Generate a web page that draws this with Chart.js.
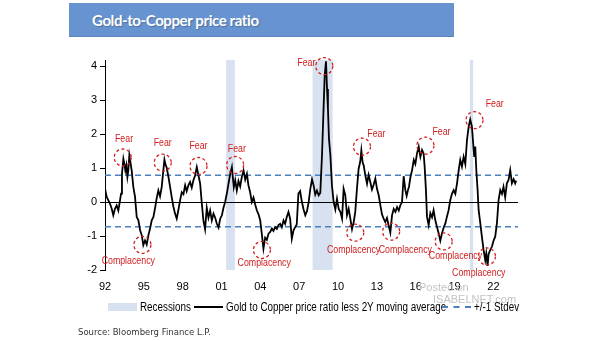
<!DOCTYPE html>
<html>
<head>
<meta charset="utf-8">
<script src="https://cdn.jsdelivr.net/npm/chart.js@4"></script>
<style>
  body { margin: 0; background: #fff; }
  #wrap { position: relative; width: 605px; height: 341px; overflow: hidden; }
  #title { position: absolute; left: 69px; top: 3px; width: 385px; height: 34px; background: #6794d1;
           border-bottom: 1px solid #5a86c2; color: #fff; font: 700 15px Lato, sans-serif; letter-spacing: -0.4px;
           line-height: 35px; padding-left: 23px; box-sizing: border-box; text-shadow: 1px 1px 1px rgba(0,0,0,0.25); }
  .lg { position: absolute; top: 299px; font: 12px "Liberation Sans", sans-serif; color: #000; line-height: 16px;
        white-space: nowrap; transform: scaleX(0.82); transform-origin: 0 0; }
  .box { position: absolute; }
  #src { position: absolute; left: 78px; top: 327px; font: 8.5px "DejaVu Sans", sans-serif; color: #333; }
  .wm { position: absolute; color: #c4c4c4; font: 11px "Liberation Sans", sans-serif; }
</style>
</head>
<body>
<div id="wrap">
  <canvas id="myChart" width="605" height="341"></canvas>
  <div id="title">Gold-to-Copper price ratio</div>
  <div class="wm" style="left:419px;top:281px;">Posted on</div>
  <div class="wm" style="left:433px;top:293px;">ISABELNET.com</div>
  <div class="box" style="left:108px;top:303px;width:29px;height:8px;background:#d8e1ef;"></div>
  <div class="lg" style="left:140px;">Recessions</div>
  <div class="box" style="left:194px;top:306px;width:29px;height:0;border-top:2px solid #000;"></div>
  <div class="lg" style="left:226px;">Gold to Copper price ratio less 2Y moving average</div>
  <div class="box" style="left:442px;top:306px;width:29px;height:0;border-top:2px dashed #4a7fc0;"></div>
  <div class="lg" style="left:474px;">+/-1 Stdev</div>
  <div id="src">Source: Bloomberg Finance L.P.</div>
</div>
<script>
const years = [
  1992.00, 1992.13, 1992.26, 1992.39, 1992.52, 1992.64, 1992.77, 1992.90, 1993.03, 1993.16, 1993.24, 1993.31,
  1993.42, 1993.49, 1993.57, 1993.65, 1993.73, 1993.80, 1993.88, 1993.96, 1994.06, 1994.19, 1994.32, 1994.45,
  1994.58, 1994.71, 1994.84, 1994.96, 1995.09, 1995.22, 1995.35, 1995.48, 1995.61, 1995.74, 1995.87, 1996.00,
  1996.12, 1996.25, 1996.38, 1996.48, 1996.59, 1996.69, 1996.77, 1996.90, 1997.03, 1997.15, 1997.28, 1997.41,
  1997.54, 1997.67, 1997.80, 1997.93, 1998.06, 1998.19, 1998.31, 1998.44, 1998.57, 1998.70, 1998.83, 1998.96,
  1999.09, 1999.22, 1999.35, 1999.48, 1999.60, 1999.73, 1999.86, 1999.99, 2000.12, 2000.25, 2000.38, 2000.51,
  2000.64, 2000.77, 2000.90, 2001.03, 2001.15, 2001.28, 2001.41, 2001.54, 2001.67, 2001.80, 2001.87, 2001.95,
  2002.06, 2002.18, 2002.31, 2002.44, 2002.57, 2002.70, 2002.83, 2002.96, 2003.08, 2003.21, 2003.34, 2003.47,
  2003.60, 2003.73, 2003.86, 2003.99, 2004.11, 2004.24, 2004.37, 2004.50, 2004.63, 2004.76, 2004.89, 2005.01,
  2005.14, 2005.27, 2005.40, 2005.53, 2005.66, 2005.79, 2005.91, 2006.04, 2006.17, 2006.30, 2006.43, 2006.56,
  2006.69, 2006.81, 2006.94, 2007.07, 2007.21, 2007.34, 2007.47, 2007.60, 2007.73, 2007.86, 2007.99, 2008.11,
  2008.24, 2008.37, 2008.50, 2008.63, 2008.76, 2008.89, 2008.97, 2009.07, 2009.15, 2009.22, 2009.30, 2009.41,
  2009.53, 2009.66, 2009.79, 2009.92, 2010.05, 2010.18, 2010.31, 2010.43, 2010.56, 2010.69, 2010.82, 2010.95,
  2011.08, 2011.21, 2011.33, 2011.46, 2011.59, 2011.72, 2011.80, 2011.90, 2011.98, 2012.11, 2012.24, 2012.36,
  2012.49, 2012.62, 2012.75, 2012.88, 2013.01, 2013.14, 2013.27, 2013.40, 2013.52, 2013.65, 2013.78, 2013.91,
  2014.04, 2014.17, 2014.30, 2014.43, 2014.56, 2014.69, 2014.81, 2014.94, 2015.07, 2015.20, 2015.30, 2015.40,
  2015.48, 2015.59, 2015.72, 2015.85, 2015.97, 2016.10, 2016.23, 2016.36, 2016.49, 2016.61, 2016.69, 2016.79,
  2016.87, 2017.00, 2017.13, 2017.26, 2017.38, 2017.51, 2017.64, 2017.77, 2017.90, 2018.03, 2018.16, 2018.29,
  2018.41, 2018.54, 2018.67, 2018.80, 2018.93, 2019.06, 2019.19, 2019.32, 2019.44, 2019.57, 2019.70, 2019.83,
  2019.96, 2020.09, 2020.21, 2020.34, 2020.42, 2020.52, 2020.60, 2020.68, 2020.78, 2020.86, 2020.99, 2021.11,
  2021.24, 2021.37, 2021.45, 2021.55, 2021.63, 2021.76, 2021.89, 2022.01, 2022.14, 2022.27, 2022.40, 2022.53,
  2022.66, 2022.78, 2022.91, 2023.04, 2023.17, 2023.30, 2023.43, 2023.56, 2023.68, 2023.76
];
const ratio = [
  0.39, 0.15, 0.05, -0.05, -0.2, -0.39, -0.2, -0.1, -0.25, 0.05, 0.25, 0.83,
  1.27, 1.13, 0.93, 1.08, 0.74, 0.93, 1.37, 1.18, 0.93, 0.44, 0.15, -0.44,
  -0.54, -0.83, -0.98, -1.27, -1.13, -1.25, -0.98, -0.78, -0.54, -0.44, -0.17, 0.13,
  0.34, 0.17, 0.44, 0.83, 1.25, 1.08, 1.01, 0.74, 0.44, 0.15, -0.13, -0.34,
  -0.49, -0.23, 0.05, 0.29, 0.23, 0.49, 0.32, 0.49, 0.59, 0.42, 0.64, 0.78,
  1.03, 0.78, 0.54, -0.05, -0.54, -0.8, -0.17, -0.46, -0.25, -0.54, -0.34, -0.46,
  -0.64, -0.75, -0.49, -0.39, -0.17, 0, 0.25, 0.54, 0.83, 1.03, 0.74, 0.44,
  0.64, 0.34, 0.62, 0.46, 0.74, 0.93, 0.66, 0.83, 0.49, 0.29, 0, 0.13,
  -0.07, -0.25, -0.36, -0.54, -0.93, -1.37, -1.05, -1.11, -0.93, -0.88, -0.78, -0.85,
  -0.74, -0.79, -0.68, -0.64, -0.74, -0.54, -0.64, -0.44, -0.29, -0.49, -1.08, -0.83,
  -0.74, -0.66, 0.25, 0.32, 0, -0.22, -0.39, -0.27, 0, 0.39, 0.67, 0.49,
  0.22, 0.34, 0.2, 0.27, 1.37, 2.84, 3.73, 4.14, 3.33, 2.75, 1.86, 1.37,
  0.49, 0, -0.22, 0.1, -0.2, -0.29, -0.49, 0.39, 0.2, -0.39, -0.2, -0.49,
  -0.8, -0.59, -0.29, 0.39, 0.98, 1.2, 1.52, 1.16, 1.08, 0.78, 0.54, 0.8,
  0.59, 0.37, 0.51, 0.69, 0.39, 0.2, -0.1, -0.37, -0.49, -0.59, -0.47, -0.69,
  -0.9, -0.39, -0.2, -0.29, -0.15, -0.25, -0.1, 0, 0.76, 0.35, 0.18, 0.35,
  0.45, 0.73, 0.94, 1.24, 1.12, 1.43, 1.63, 1.33, 1.53, 1.43, 1.04, 0.35,
  -0.43, -0.68, -0.33, -0.45, -0.24, -0.53, -0.73, -0.92, -1.14, -0.92, -0.75, -0.63,
  -0.43, -0.24, 0.06, 0.24, 0.35, 0.24, 0.55, 0.94, 1.24, 1.04, 1.33, 1.12,
  1.82, 2.22, 2.43, 2.22, 1.82, 1.33, 1.63, 0.94, 0.35, -0.24, -0.63, -1.02,
  -1.41, -1.71, -1.51, -1.88, -1.53, -1.41, -1.31, -1.14, -1.02, -0.63, 0.06, 0.35,
  0.24, 0.45, 0.14, 0.55, 0.65, 0.94, 0.55, 0.67, 0.55, 0.63
];
const stdevUp = 0.79;
const stdevDown = -0.73;
const recessionStart = [2001.36, 2008.03, 2020.18];
const recessionEnd = [2002.03, 2009.58, 2020.44];
const xTicks = [1992, 1995, 1998, 2001, 2004, 2007, 2010, 2013, 2016, 2019, 2022];
const yTicks = [-2, -1, 0, 1, 2, 3, 4];
// [label year, label value, circle year, circle value]
const fearNotes = [
  [1993.47, 1.87, 1993.37, 1.31], [1996.46, 1.73, 1996.46, 1.16], [1999.22, 1.66, 1999.22, 1.06],
  [2002.18, 1.55, 2002.05, 1.09], [2007.55, 4.08, 2008.94, 4.0], [2012.96, 1.99, 2011.85, 1.63],
  [2017.99, 2.06, 2016.75, 1.66], [2022.1, 2.88, 2020.54, 2.41]
];
const complacencyNotes = [
  [1993.8, -1.72, 1994.89, -1.26], [2004.3, -1.8, 2004.12, -1.41], [2011.2, -1.41, 2011.33, -0.9],
  [2015.2, -1.41, 2014.1, -0.87], [2019.07, -1.59, 2018.16, -1.16], [2020.87, -2.08, 2021.5, -1.6]
];

const xMin = 1992, xMax = 2023.9;
const tickFont = { family: '"Liberation Sans", sans-serif', size: 11 };

const shade = {
  id: 'shade',
  beforeDraw(chart) {
    const { ctx, chartArea: a, scales: { x } } = chart;
    ctx.save();
    ctx.fillStyle = '#d8e1ef';
    recessionStart.forEach((s, i) => {
      const x0 = x.getPixelForValue(s), x1 = x.getPixelForValue(recessionEnd[i]);
      ctx.fillRect(x0, a.top, x1 - x0, a.bottom - a.top);
    });
    ctx.restore();
  }
};

// red "Fear"/"Complacency" notes with dashed rings, narrowed like the original font
const notes = {
  id: 'notes',
  afterDatasetsDraw(chart) {
    const { ctx, scales: { x, y } } = chart;
    ctx.save();
    ctx.fillStyle = '#d02020';
    ctx.strokeStyle = '#d02020';
    ctx.lineWidth = 1.3;
    ctx.font = '11px "Liberation Sans", sans-serif';
    ctx.textAlign = 'center';
    ctx.textBaseline = 'middle';
    const draw = (list, word) => list.forEach(n => {
      ctx.save();
      ctx.translate(x.getPixelForValue(n[0]), y.getPixelForValue(n[1]));
      ctx.scale(0.8, 1);
      ctx.fillText(word, 0, 0);
      ctx.restore();
      ctx.setLineDash([3, 2.5]);
      ctx.beginPath();
      ctx.ellipse(x.getPixelForValue(n[2]), y.getPixelForValue(n[3]), 8.5, 8.5, 0, 0, Math.PI * 2);
      ctx.stroke();
      ctx.setLineDash([]);
    });
    draw(fearNotes, 'Fear');
    draw(complacencyNotes, 'Complacency');
    ctx.restore();
  }
};

const myChart = new Chart(document.getElementById('myChart'), {
  type: 'line',
  data: {
    datasets: [
      {
        data: years.map((yr, i) => ({ x: yr, y: ratio[i] })),
        borderColor: '#000',
        borderWidth: 1.8,
        pointRadius: 0,
        tension: 0
      },
      {
        data: [{ x: xMin, y: stdevUp }, { x: xMax, y: stdevUp }],
        borderColor: '#4a7fc0',
        borderWidth: 1.5,
        borderDash: [6, 4],
        pointRadius: 0
      },
      {
        data: [{ x: xMin, y: stdevDown }, { x: xMax, y: stdevDown }],
        borderColor: '#4a7fc0',
        borderWidth: 1.5,
        borderDash: [6, 4],
        pointRadius: 0
      }
    ]
  },
  options: {
    responsive: false,
    devicePixelRatio: 1,
    animation: false,
    layout: { padding: { left: 70, right: 87, top: 60, bottom: 0 } },
    plugins: { legend: { display: false }, tooltip: { enabled: false } },
    scales: {
      x: {
        type: 'linear',
        min: xMin,
        max: xMax,
        afterBuildTicks: s => { s.ticks = xTicks.map(v => ({ value: v })); },
        afterFit: s => { s.height = 71; },
        grid: { display: false, drawTicks: false },
        border: { display: false },
        ticks: {
          font: tickFont,
          color: '#000',
          padding: 10,
          maxRotation: 0,
          callback: v => String(v % 100).padStart(2, '0')
        }
      },
      y: {
        min: -2,
        max: 4.18,
        afterBuildTicks: s => { s.ticks = yTicks.map(v => ({ value: v })); },
        afterFit: s => { s.width = 35; },
        border: { display: true, color: '#000', width: 1 },
        grid: {
          color: c => (c.tick && c.tick.value === 0 ? '#000' : 'rgba(0,0,0,0)'),
          tickColor: '#000',
          tickLength: 5,
          lineWidth: 1
        },
        ticks: { font: tickFont, color: '#000', padding: 3 }
      }
    }
  },
  plugins: [shade, notes]
});
</script>
</body>
</html>
